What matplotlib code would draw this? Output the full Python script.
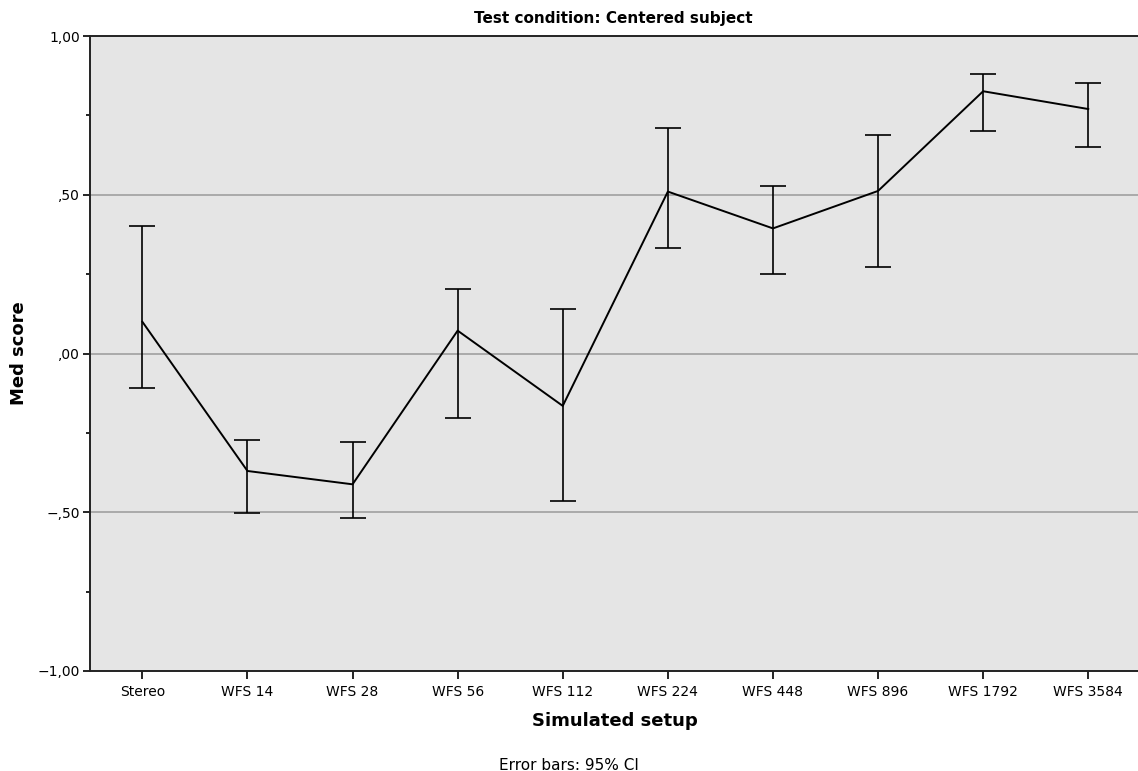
import matplotlib
matplotlib.use("Agg")
import matplotlib.pyplot as plt
from matplotlib.ticker import FixedLocator, FuncFormatter

categories = ["Stereo", "WFS 14", "WFS 28", "WFS 56", "WFS 112", "WFS 224",
              "WFS 448", "WFS 896", "WFS 1792", "WFS 3584"]
means = [0.100, -0.370, -0.412, 0.072, -0.165, 0.510, 0.394, 0.512, 0.826, 0.770]
ci_upper = [0.403, -0.272, -0.280, 0.203, 0.139, 0.711, 0.527, 0.687, 0.879, 0.853]
ci_lower = [-0.110, -0.501, -0.517, -0.203, -0.465, 0.332, 0.250, 0.272, 0.700, 0.650]

title = "Test condition: Centered subject"
xlabel = "Simulated setup"
ylabel = "Med score"
footnote = "Error bars: 95% CI"

fig = plt.figure(figsize=(11.38, 7.71), dpi=100)
W, H = 1138, 771
left, right, top, bottom = 89.8, 1140.8, 36, 671
ax = fig.add_axes([left / W, 1 - bottom / H, (right - left) / W, (bottom - top) / H])
ax.set_facecolor("#e5e5e5")

x = list(range(len(categories)))
yerr = [[m - lo for m, lo in zip(means, ci_lower)], [hi - m for m, hi in zip(means, ci_upper)]]
ax.plot(x, means, color="black", lw=1.4, zorder=3)
ax.errorbar(x, means, yerr=yerr, fmt="none", ecolor="black", elinewidth=1.2,
            capsize=9.4, capthick=1.2, zorder=3)

ax.set_xlim(-0.5, len(categories) - 0.5)
ax.set_ylim(-1.0, 1.0)
for g in [-0.5, 0.0, 0.5]:
    ax.axhline(g, color="#a0a0a0", lw=1.2, zorder=1)

ax.set_xticks(x)
ax.set_xticklabels(categories, fontsize=10)
ax.yaxis.set_major_locator(FixedLocator([-1.0, -0.5, 0.0, 0.5, 1.0]))
ax.yaxis.set_minor_locator(FixedLocator([-0.75, -0.25, 0.25, 0.75]))

def fmt(v, pos):
    s = "%.2f" % v
    s = s.replace(".", ",")
    if s.startswith("0,"):
        s = s[1:]
    elif s.startswith("-0,"):
        s = "\u2212" + s[2:]
    elif s.startswith("-"):
        s = "\u2212" + s[1:]
    return s

ax.yaxis.set_major_formatter(FuncFormatter(fmt))
ax.tick_params(axis="y", which="major", length=5, width=1.2, labelsize=10, pad=2)
ax.tick_params(axis="y", which="minor", length=3, width=1.2)
ax.tick_params(axis="x", which="major", length=6, width=1.2, labelsize=10, pad=4)

for s in ["left", "bottom", "top"]:
    ax.spines[s].set_linewidth(1.4)
    ax.spines[s].set_color("#222222")
ax.spines["right"].set_visible(False)

fig.text((left + (right - left) / 2 - 2) / W, 1 - 18 / H, title, ha="center", va="center",
         fontsize=11, fontweight="bold")
fig.text(615 / W, 1 - 721 / H, xlabel, ha="center", va="center", fontsize=13, fontweight="bold")
fig.text(19 / W, 1 - 353 / H, ylabel, ha="center", va="center", rotation=90,
         fontsize=13, fontweight="bold")
fig.text(569 / W, 1 - 765 / H, footnote, ha="center", va="center", fontsize=11)

fig.savefig("out.png", dpi=100)
